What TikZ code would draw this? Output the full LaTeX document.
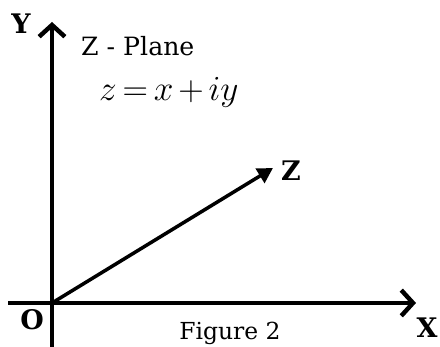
\documentclass[tikz,border=0pt]{standalone}
\usepackage{graphicx}
\usepackage{fontspec}
\setmainfont{DejaVu Serif}
\usetikzlibrary{arrows.meta,positioning}
\tikzset{axisarr/.style={-{Straight Barb[length=10pt,width=22pt,line width=3.8pt]},line width=3.8pt},vecarr/.style={-{Triangle[length=13pt,width=14pt]},line width=3pt},axislabel/.style={font=\fontsize{23pt}{27pt}\selectfont\bfseries,inner sep=0pt},planelabel/.style={font=\fontsize{21.5pt}{25pt}\selectfont,inner sep=0pt,anchor=west}}

\begin{document}
\begin{tikzpicture}[x=0.03cm,y=-0.03cm]
\useasboundingbox (0,0) rectangle (440,347);
\coordinate (o) at (52,303);
\coordinate (xl) at (8,303);
\coordinate (xr) at (416,303);
\coordinate (yb) at (52,347);
\coordinate (yt) at (52,22);
\coordinate (zt) at (273,168);
\draw[line width=3.8pt] (xl)--(o);
\draw[axisarr] (o)--(xr);
\draw[line width=3.8pt] (yb)--(o);
\draw[axisarr] (o)--(yt);
\draw[vecarr] (o)--(zt);
\node[axislabel] (ylab) at (21,24) {Y};
\node[axislabel] (olab) at (32,320) {O};
\node[axislabel] (xlab) at (427,328) {X};
\node[axislabel] (zlab) at (291,171) {Z};
\node[planelabel] (plane) at (81,46) {Z - Plane};
\node[planelabel] (eq) at (99,92) {\scalebox{1.45}{$\thickmuskip=3mu\medmuskip=2.5mu z=x+iy$}};
\node[font=\fontsize{20pt}{24pt}\selectfont,inner sep=0pt] (cap) at (230,333) {Figure 2};
\end{tikzpicture}
\end{document}
